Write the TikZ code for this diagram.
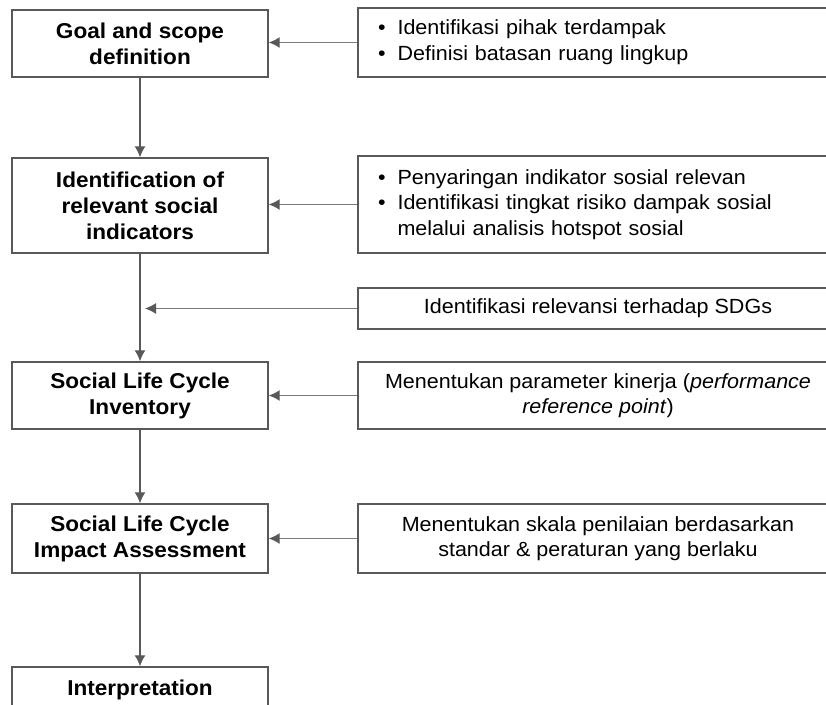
\documentclass[tikz,border=0pt]{standalone}
\usepackage{fontspec}
\setmainfont{Liberation Sans}[FakeStretch=1.05]
\usetikzlibrary{arrows.meta}
\definecolor{linegray}{HTML}{595959}
\definecolor{feedgray}{HTML}{7A7A7A}
\tikzset{
  stage/.style={draw=linegray, line width=1.4pt, minimum width=256pt, inner sep=0pt,
    align=center, font=\fontsize{21.5}{26}\selectfont\bfseries},
  note/.style={draw=linegray, line width=1.4pt, minimum width=480pt, inner sep=0pt,
    font=\fontsize{20.5}{25.5}\selectfont},
  bulletnote/.style={note, text width=480pt, align=left},
  flow/.style={draw=linegray, line width=1.3pt, -{Latex[length=11pt,width=11pt]}},
  feed/.style={flow, draw=feedgray, -{Latex[length=11pt,width=11pt,color=linegray]}},
}
\begin{document}
\begin{tikzpicture}[x=1pt,y=-1pt]
        \useasboundingbox (0,0) rectangle (826,704);
        % main stages
        \node[stage, minimum height=67pt] at (140,43.5)  (goal) {Goal and scope\\definition};
        \node[stage, minimum height=95pt] at (140,205.5) (indic) {Identification of\\relevant social\\indicators};
        \node[stage, minimum height=67pt] at (140,395.5) (inv) {Social Life Cycle\\Inventory};
        \node[stage, minimum height=69pt] at (140,538.5) (lcia) {Social Life Cycle\\Impact Assessment};
        \node[stage, minimum height=46pt] at (140,690)   (interp) {Interpretation};
        % notes on the right
        \node[bulletnote, minimum height=69pt] at (598,42.5) (n1)
          {\hspace*{20pt}\begin{tabular}{@{}l@{\hspace{12pt}}l@{}}
            \textbullet & Identifikasi pihak terdampak\\
            \textbullet & Definisi batasan ruang lingkup
          \end{tabular}};
        \node[bulletnote, minimum height=97pt] at (598,204.5) (n2)
          {\hspace*{20pt}\begin{tabular}{@{}l@{\hspace{12pt}}l@{}}
            \textbullet & Penyaringan indikator sosial relevan\\
            \textbullet & Identifikasi tingkat risiko dampak sosial\\
                        & melalui analisis hotspot sosial
          \end{tabular}};
        \node[note, minimum height=41pt] at (598,308.5) (n3) {Identifikasi relevansi terhadap SDGs};
        \node[note, minimum height=67pt, align=center] at (598,395.5) (n4)
          {Menentukan parameter kinerja (\textit{performance}\\\textit{reference point})};
        \node[note, minimum height=69pt, align=center] at (598,538.5) (n5)
          {Menentukan skala penilaian berdasarkan\\standar \& peraturan yang berlaku};
        \coordinate (sdg) at (145,310);
        % connectors
        \draw[flow] (goal) -- (indic);
        \draw[flow] (indic) -- (inv);
        \draw[flow] (inv) -- (lcia);
        \draw[flow] (lcia) -- (interp);
        \draw[feed] (n1.west) -- (n1.west -| goal.east);
        \draw[feed] (n2.west) -- (n2.west -| indic.east);
        \draw[feed] (n3.west) -- (n3.west -| sdg);
        \draw[feed] (n4.west) -- (n4.west -| inv.east);
        \draw[feed] (n5.west) -- (n5.west -| lcia.east);
      \end{tikzpicture}
\end{document}
